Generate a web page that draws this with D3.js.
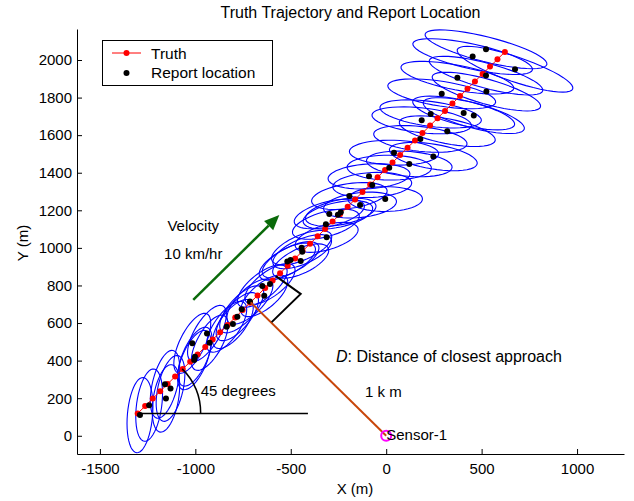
<!DOCTYPE html>
<html lang="en">
<head>
    <meta charset="UTF-8">
    <title>Truth Trajectory and Report Location</title>
    <style>
        body { margin: 0; background: #fff; }
        svg text { font-family: "Liberation Sans", Arial, sans-serif; fill: #000; }
    </style>
    <script src="https://cdnjs.cloudflare.com/ajax/libs/d3/7.8.5/d3.min.js"></script>
</head>
<body>
    <div id="chart"></div>
    <script>
        // Truth trajectory (m)
        const truthX = [-1302,-1263,-1223,-1184,-1145,-1106,-1066,-1027,-988,-948,-909,-870,-831,-791,-752,-713,-674,-634,-595,-556,
                        -516,-477,-438,-399,-359,-320,-281,-242,-202,-163,-124,-84,-45,-6,33,73,112,151,190,230,
                        269,308,347,387,426,465,505,544,583,622];
        const truthY = [119,158,198,237,276,315,355,394,433,473,512,551,590,630,669,708,747,787,826,865,
                        905,944,983,1022,1062,1101,1140,1179,1219,1258,1297,1337,1376,1415,1454,1494,1533,1572,1611,1651,
                        1690,1729,1768,1808,1847,1886,1926,1965,2004,2043];

        // Report locations (m)
        const reportX = [-1290,-1242,-1154,-1130,-1159,-1002,-1006,-1016,-925,-939,-836,-803,-780,-757,-714,-639,-649,-609,-501,-518,
                         -448,-440,-443,-312,-316,-253,-238,-298,-137,-193,-5,-73,-90,16,121,247,41,179,320,186,
                         459,406,233,291,525,373,523,675,453,523];
        const reportY = [110,163,199,252,274,421,403,492,495,545,580,595,634,673,714,745,797,808,936,927,
                         930,980,1001,1056,1126,1176,1190,1181,1228,1276,1260,1335,1381,1427,1447,1486,1507,1580,1621,1679,
                         1704,1718,1713,1820,1832,1906,1917,1951,2018,2057];

        // Error ellipse semi-axes (m): cross-range (major) per report, range (minor)
        const ellipseA = [201,194,182,179,185,168,168,175,163,168,158,155,156,157,157,152,159,157,165,165,
                          160,166,170,171,181,186,188,189,192,200,195,207,215,221,225,233,234,246,256,262,
                          274,274,268,286,295,301,308,320,321,329];
        const rangeSigma = 66;

        const sensor = [0, 0];
        const xTicks = [-1500, -1000, -500, 0, 500, 1000];
        const yTicks = [0, 200, 400, 600, 800, 1000, 1200, 1400, 1600, 1800, 2000];

        const W = 634, H = 501;
        const svg = d3.select("#chart").append("svg")
            .attr("width", W).attr("height", H);

        const x = d3.scaleLinear().domain([-1620, 1246]).range([77, 624]);
        const y = d3.scaleLinear().domain([-97, 2165]).range([454, 29]);

        // Axes (ticks pointing inward, no box)
        const xAxis = svg.append("g")
            .attr("transform", `translate(0,${y(-97)})`)
            .call(d3.axisBottom(x).tickValues(xTicks).tickFormat(d => String(d))
                .tickSizeInner(-5).tickSizeOuter(0).tickPadding(9));
        const yAxis = svg.append("g")
            .attr("transform", `translate(${x(-1620)},0)`)
            .call(d3.axisLeft(y).tickValues(yTicks).tickFormat(d => String(d))
                .tickSizeInner(-5).tickSizeOuter(0).tickPadding(5));
        [xAxis, yAxis].forEach(g => {
            g.selectAll("text").style("font-size", "15px").style("font-family", "'Liberation Sans', Arial, sans-serif");
            g.selectAll("path, line").attr("stroke", "#000");
        });

        // Error ellipses, major axis across the line of sight from the sensor
        const ellLine = d3.line().curve(d3.curveLinearClosed);
        const ellData = reportX.map((rx, i) => {
            const th = Math.atan2(reportY[i] - sensor[1], rx - sensor[0]) + Math.PI / 2;
            const a = ellipseA[i], b = rangeSigma;
            return d3.range(48).map(k => {
                const t = k / 48 * 2 * Math.PI;
                const px = rx + a * Math.cos(t) * Math.cos(th) - b * Math.sin(t) * Math.sin(th);
                const py = reportY[i] + a * Math.cos(t) * Math.sin(th) + b * Math.sin(t) * Math.cos(th);
                return [x(px), y(py)];
            });
        });
        svg.append("g").selectAll("path").data(ellData).join("path")
            .attr("d", ellLine)
            .attr("fill", "none").attr("stroke", "#0000ff").attr("stroke-width", 1.1);

        // Truth trajectory
        const truth = truthX.map((v, i) => [v, truthY[i]]);
        svg.append("path")
            .attr("d", d3.line().x(d => x(d[0])).y(d => y(d[1]))(truth))
            .attr("fill", "none").attr("stroke", "#ff0000").attr("stroke-width", 1);
        svg.append("g").selectAll("circle").data(truth).join("circle")
            .attr("cx", d => x(d[0])).attr("cy", d => y(d[1])).attr("r", 3)
            .attr("fill", "#ff0000");

        // Reports
        svg.append("g").selectAll("circle").data(reportX.map((v, i) => [v, reportY[i]])).join("circle")
            .attr("cx", d => x(d[0])).attr("cy", d => y(d[1])).attr("r", 3)
            .attr("fill", "#000");

        // Closest approach annotation
        const closest = [-710, 710];
        svg.append("line")
            .attr("x1", x(sensor[0])).attr("y1", y(sensor[1]))
            .attr("x2", x(closest[0])).attr("y2", y(closest[1]))
            .attr("stroke", "#c8460a").attr("stroke-width", 2);
        const bracket = [[-578, 850], [-448, 755], [-600, 605]];
        svg.append("path")
            .attr("d", d3.line().x(d => x(d[0])).y(d => y(d[1]))(bracket))
            .attr("fill", "none").attr("stroke", "#000").attr("stroke-width", 2);

        // 45 degree annotation
        const start = [truthX[0], truthY[0]];
        svg.append("line")
            .attr("x1", x(start[0])).attr("y1", y(start[1]))
            .attr("x2", x(-410)).attr("y2", y(start[1]))
            .attr("stroke", "#000").attr("stroke-width", 1.5);
        const arcR = x(start[0] + 330) - x(start[0]);
        const arcPath = d3.path();
        arcPath.arc(x(start[0]), y(start[1]), arcR, 0, -Math.PI / 4, true);
        svg.append("path").attr("d", arcPath.toString())
            .attr("fill", "none").attr("stroke", "#000").attr("stroke-width", 1.5);

        // Velocity arrow
        const tail = [x(-1011), y(723)], tip = [x(-560), y(1175)];
        const ang = Math.atan2(tip[1] - tail[1], tip[0] - tail[0]);
        const hl = 15, hw = 6.5;
        const base = [tip[0] - hl * Math.cos(ang), tip[1] - hl * Math.sin(ang)];
        svg.append("line")
            .attr("x1", tail[0]).attr("y1", tail[1]).attr("x2", base[0]).attr("y2", base[1])
            .attr("stroke", "#0a6a0a").attr("stroke-width", 2.5);
        svg.append("path")
            .attr("d", d3.line()([tip,
                [base[0] - hw * Math.sin(ang), base[1] + hw * Math.cos(ang)],
                [base[0] + hw * Math.sin(ang), base[1] - hw * Math.cos(ang)]]) + "Z")
            .attr("fill", "#0a6a0a");

        // Sensor
        svg.append("circle")
            .attr("cx", x(sensor[0])).attr("cy", y(sensor[1])).attr("r", 5)
            .attr("fill", "none").attr("stroke", "#ff00ff").attr("stroke-width", 2);

        // Text annotations
        const label = (tx, ty, s, size, anchor) => svg.append("text")
            .attr("x", x(tx)).attr("y", y(ty)).attr("text-anchor", anchor || "start")
            .style("font-size", size + "px").text(s);
        label(-1011, 1090, "Velocity", 15, "middle");
        label(-1011, 943, "10 km/hr", 15, "middle");
        label(-972, 212, "45 degrees", 15);
        label(-111, 205, "1 k m", 15);
        label(0, -25, "Sensor-1", 15);
        const dt = label(-263, 392, "", 16);
        dt.append("tspan").style("font-style", "italic").text("D");
        dt.append("tspan").text(": Distance of closest approach");

        // Title and axis labels
        svg.append("text").attr("x", 350.5).attr("y", 18).attr("text-anchor", "middle")
            .style("font-size", "16px").text("Truth Trajectory and Report Location");
        svg.append("text").attr("x", 355).attr("y", 494).attr("text-anchor", "middle")
            .style("font-size", "15px").text("X (m)");
        svg.append("text").attr("transform", "translate(28,243) rotate(-90)").attr("text-anchor", "middle")
            .style("font-size", "15px").text("Y (m)");

        // Legend
        const lg = svg.append("g");
        lg.append("rect").attr("x", 102.5).attr("y", 40.5).attr("width", 170).attr("height", 45)
            .attr("fill", "#fff").attr("stroke", "#000").attr("stroke-width", 1);
        lg.append("line").attr("x1", 112).attr("x2", 141).attr("y1", 53).attr("y2", 53)
            .attr("stroke", "#ff0000").attr("stroke-width", 1);
        lg.append("circle").attr("cx", 126.5).attr("cy", 53).attr("r", 3).attr("fill", "#ff0000");
        lg.append("circle").attr("cx", 126.5).attr("cy", 73).attr("r", 3).attr("fill", "#000");
        lg.append("text").attr("x", 151).attr("y", 58.5).style("font-size", "15.5px").text("Truth");
        lg.append("text").attr("x", 151).attr("y", 78).style("font-size", "15.5px").text("Report location");
    </script>
</body>
</html>
